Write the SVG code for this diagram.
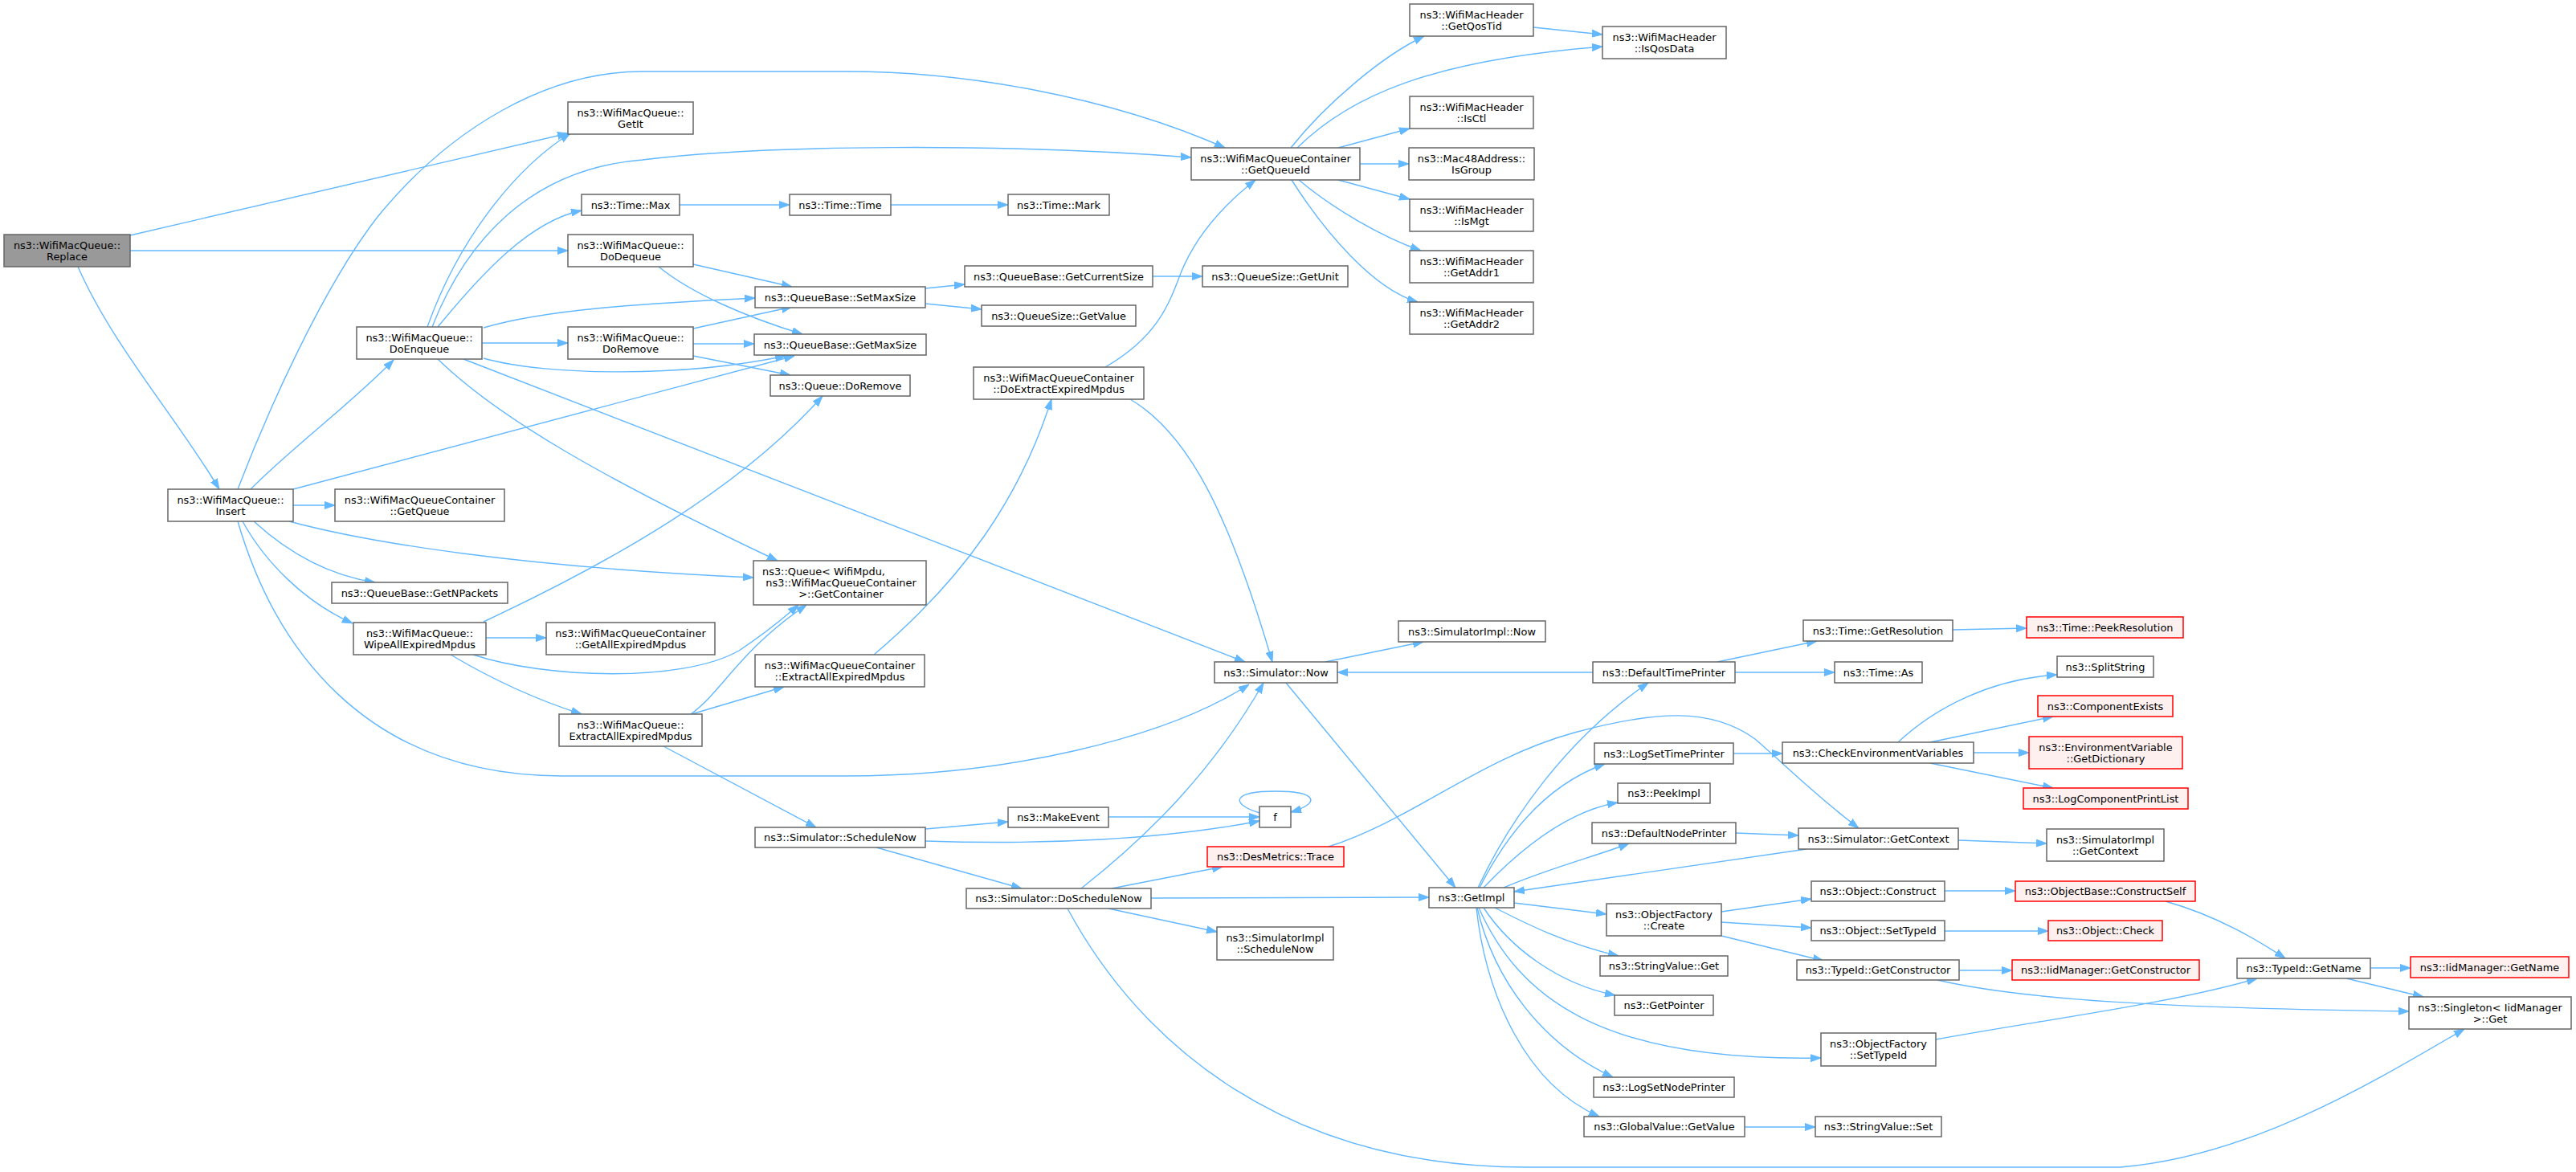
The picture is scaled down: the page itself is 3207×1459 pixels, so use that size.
<svg xmlns="http://www.w3.org/2000/svg" width="3207" height="1459" viewBox="0 0 3207 1459">
<defs>
<marker id="a" viewBox="0 0 13 10" refX="13" refY="5" markerWidth="13" markerHeight="10" markerUnits="userSpaceOnUse" orient="auto"><path d="M0,0.5 L13,5 L0,9.5 z" fill="#63b8ff" stroke="#63b8ff" stroke-width="1"/></marker>
</defs>
<style>
.n rect{fill:#ffffff;stroke:#666666;stroke-width:1.5}
.root rect{fill:#999999}
.red rect{fill:#fff0f0;stroke:#ff0000}
text{font-family:"DejaVu Sans","Liberation Sans",sans-serif;font-size:12.9px;text-anchor:middle;fill:#000}
.e path{fill:none;stroke:#63b8ff;stroke-width:1.4;marker-end:url(#a)}
</style>
<rect width="3207" height="1459" fill="#ffffff"/>
<g class="e" id="edges">
<path d="M162,293 L707,166"/>
<path d="M162,312 L707,312"/>
<path d="M97,332 C 140,430 220,520 273,609"/>
<path d="M296,609 C 330,520 400,360 470,270 C 560,160 680,89 800,89 L1055,89 C 1200,89 1380,120 1525,184"/>
<path d="M312,609 C 360,560 440,500 490,448"/>
<path d="M365,609 L989,443"/>
<path d="M365,629 L417,629"/>
<path d="M360,649 C 460,676 650,706 938,719"/>
<path d="M316,649 C 350,680 400,715 467,725"/>
<path d="M302,649 C 330,700 380,750 439,776"/>
<path d="M296,649 C 340,800 450,966 700,966 L1053,966 C 1250,966 1450,920 1555,852"/>
<path d="M532,407 C 570,300 640,210 710,166"/>
<path d="M538,407 C 580,300 660,210 800,199 C 950,180 1250,178 1483,196"/>
<path d="M545,407 C 600,340 660,275 724,262"/>
<path d="M602,408 C 680,385 800,378 940,371"/>
<path d="M600,427 L707,427"/>
<path d="M602,446 C 680,468 850,470 978,443"/>
<path d="M545,447 C 620,520 750,595 968,698"/>
<path d="M577,447 L1550,824"/>
<path d="M863,329 L986,357"/>
<path d="M820,332 C 860,365 930,395 999,416"/>
<path d="M863,409 L986,382"/>
<path d="M863,428 L939,428"/>
<path d="M863,443 L984,467"/>
<path d="M846,255 L983,255"/>
<path d="M1109,255 L1255,255"/>
<path d="M1152,359 L1201,354"/>
<path d="M1152,378 L1222,385"/>
<path d="M1435,344 L1497,344"/>
<path d="M602,774 C 760,700 920,610 1024,493"/>
<path d="M589,815 C 680,845 850,850 920,810 C 950,790 975,770 994,753"/>
<path d="M605,794 L680,794"/>
<path d="M561,815 C 620,850 680,875 724,889"/>
<path d="M860,889 C 900,860 920,810 1004,753"/>
<path d="M861,889 L976,855"/>
<path d="M826,929 L1016,1030"/>
<path d="M1088,815 C 1200,720 1270,620 1309,497"/>
<path d="M1376,457 C 1440,420 1455,380 1470,340 C 1490,290 1530,250 1563,224"/>
<path d="M1407,497 C 1480,540 1530,640 1584,824"/>
<path d="M1607,184 C 1650,130 1720,70 1773,45"/>
<path d="M1615,184 C 1680,120 1780,75 1995,58"/>
<path d="M1666,184 L1755,160"/>
<path d="M1693,204 L1754,204"/>
<path d="M1666,224 L1755,248"/>
<path d="M1617,224 C 1660,260 1720,295 1769,312"/>
<path d="M1608,224 C 1650,290 1710,360 1765,376"/>
<path d="M1909,34 L1995,43"/>
<path d="M1650,824 L1772,799"/>
<path d="M1601,850 L1812,1105"/>
<path d="M1983,837 L1665,837"/>
<path d="M2138,824 L2262,798"/>
<path d="M2160,837 L2284,837"/>
<path d="M2431,784 L2523,782"/>
<path d="M1840,1105 C 1880,1020 1950,920 2052,850"/>
<path d="M1842,1105 C 1880,1030 1930,975 1998,951"/>
<path d="M1847,1105 C 1890,1060 1950,1010 2014,999"/>
<path d="M1872,1105 C 1930,1080 1990,1065 2028,1050"/>
<path d="M1885,1124 L2000,1138"/>
<path d="M1861,1130 C 1900,1150 1950,1175 2015,1190"/>
<path d="M1847,1130 C 1880,1180 1940,1225 2011,1239"/>
<path d="M1841,1130 C 1890,1240 1990,1322 2267,1317"/>
<path d="M1839,1130 C 1860,1220 1920,1300 2008,1341"/>
<path d="M1838,1130 C 1850,1240 1900,1350 1991,1390"/>
<path d="M2249,1057 L1885,1110"/>
<path d="M2158,938 L2219,938"/>
<path d="M2161,1037 L2239,1040"/>
<path d="M2143,1135 L2255,1119"/>
<path d="M2143,1148 L2255,1155"/>
<path d="M2143,1165 L2270,1196"/>
<path d="M2172,1403 L2260,1403"/>
<path d="M1654,1054 C 1760,1020 1840,945 1960,912 C 2060,885 2130,880 2185,920 C 2220,950 2260,990 2314,1031"/>
<path d="M2363,924 C 2410,880 2480,845 2561,840"/>
<path d="M2403,924 L2556,892"/>
<path d="M2457,937 L2526,937"/>
<path d="M2403,950 L2556,981"/>
<path d="M2438,1046 L2548,1050"/>
<path d="M2421,1109 L2509,1109"/>
<path d="M2421,1159 L2550,1159"/>
<path d="M2439,1208 L2505,1208"/>
<path d="M2412,1220 C 2520,1245 2700,1255 2999,1259"/>
<path d="M2696,1122 C 2760,1140 2810,1170 2845,1193"/>
<path d="M2410,1294 C 2540,1270 2700,1250 2810,1218"/>
<path d="M2951,1205 L3001,1205"/>
<path d="M2921,1218 L3017,1241"/>
<path d="M1329,1131 C 1420,1300 1600,1453 1900,1453 L2640,1453 C 2800,1440 2950,1350 3068,1281"/>
<path d="M1346,1106 C 1430,1040 1510,960 1573,850"/>
<path d="M1384,1106 L1522,1079"/>
<path d="M1433,1118 L1779,1117"/>
<path d="M1380,1131 L1515,1160"/>
<path d="M1152,1032 L1255,1023"/>
<path d="M1152,1047 C 1300,1052 1450,1045 1568,1022"/>
<path d="M1091,1055 L1272,1106"/>
<path d="M1380,1017 L1568,1017"/>
<path d="M1568,1012 C 1530,1000 1535,985 1588,985 C 1640,985 1645,1000 1607,1011"/>
</g>
<g id="n_replace" class="n root"><rect x="5" y="292" width="157" height="40"/><text x="83.5" y="309.6">ns3::WifiMacQueue::</text><text x="83.5" y="323.6">Replace</text></g>
<g id="n_insert" class="n"><rect x="209" y="609" width="156" height="40"/><text x="287" y="626.6">ns3::WifiMacQueue::</text><text x="287" y="640.6">Insert</text></g>
<g id="n_getit" class="n"><rect x="707" y="127" width="156" height="40"/><text x="785" y="144.6">ns3::WifiMacQueue::</text><text x="785" y="158.6">GetIt</text></g>
<g id="n_timemax" class="n"><rect x="724" y="242" width="122" height="26"/><text x="785" y="259.6">ns3::Time::Max</text></g>
<g id="n_dodequeue" class="n"><rect x="707" y="292" width="156" height="40"/><text x="785" y="309.6">ns3::WifiMacQueue::</text><text x="785" y="323.6">DoDequeue</text></g>
<g id="n_doenqueue" class="n"><rect x="444" y="407" width="156" height="40"/><text x="522" y="424.6">ns3::WifiMacQueue::</text><text x="522" y="438.6">DoEnqueue</text></g>
<g id="n_doremovew" class="n"><rect x="707" y="407" width="156" height="40"/><text x="785" y="424.6">ns3::WifiMacQueue::</text><text x="785" y="438.6">DoRemove</text></g>
<g id="n_getqueue" class="n"><rect x="417" y="609" width="211" height="40"/><text x="522.5" y="626.6">ns3::WifiMacQueueContainer</text><text x="522.5" y="640.6">::GetQueue</text></g>
<g id="n_getnpackets" class="n"><rect x="413" y="725" width="219" height="26"/><text x="522.5" y="742.6">ns3::QueueBase::GetNPackets</text></g>
<g id="n_wipe" class="n"><rect x="440" y="775" width="165" height="40"/><text x="522.5" y="792.6">ns3::WifiMacQueue::</text><text x="522.5" y="806.6">WipeAllExpiredMpdus</text></g>
<g id="n_getallexp" class="n"><rect x="680" y="775" width="210" height="40"/><text x="785" y="792.6">ns3::WifiMacQueueContainer</text><text x="785" y="806.6">::GetAllExpiredMpdus</text></g>
<g id="n_extractw" class="n"><rect x="696" y="889" width="178" height="40"/><text x="785" y="906.6">ns3::WifiMacQueue::</text><text x="785" y="920.6">ExtractAllExpiredMpdus</text></g>
<g id="n_getqueueid" class="n"><rect x="1483" y="184" width="210" height="40"/><text x="1588" y="201.6">ns3::WifiMacQueueContainer</text><text x="1588" y="215.6">::GetQueueId</text></g>
<g id="n_timetime" class="n"><rect x="983" y="242" width="126" height="26"/><text x="1046" y="259.6">ns3::Time::Time</text></g>
<g id="n_timemark" class="n"><rect x="1255" y="242" width="126" height="26"/><text x="1318" y="259.6">ns3::Time::Mark</text></g>
<g id="n_getcurrentsize" class="n"><rect x="1201" y="331" width="234" height="26"/><text x="1318" y="348.6">ns3::QueueBase::GetCurrentSize</text></g>
<g id="n_getunit" class="n"><rect x="1497" y="331" width="181" height="26"/><text x="1587.5" y="348.6">ns3::QueueSize::GetUnit</text></g>
<g id="n_setmaxsize" class="n"><rect x="940" y="357" width="212" height="26"/><text x="1046" y="374.6">ns3::QueueBase::SetMaxSize</text></g>
<g id="n_getvalueqs" class="n"><rect x="1222" y="380" width="192" height="26"/><text x="1318" y="397.6">ns3::QueueSize::GetValue</text></g>
<g id="n_getmaxsize" class="n"><rect x="939" y="416" width="214" height="26"/><text x="1046" y="433.6">ns3::QueueBase::GetMaxSize</text></g>
<g id="n_qdoremove" class="n"><rect x="959" y="467" width="174" height="26"/><text x="1046" y="484.6">ns3::Queue::DoRemove</text></g>
<g id="n_doextractexp" class="n"><rect x="1212" y="457" width="212" height="40"/><text x="1318" y="474.6">ns3::WifiMacQueueContainer</text><text x="1318" y="488.6">::DoExtractExpiredMpdus</text></g>
<g id="n_getcontainer" class="n"><rect x="938" y="698" width="215" height="55"/><text x="949" y="716.1" style="text-anchor:start">ns3::Queue&lt; WifiMpdu,</text><text x="1047" y="730.1">ns3::WifiMacQueueContainer</text><text x="1047" y="744.1">&gt;::GetContainer</text></g>
<g id="n_extractc" class="n"><rect x="940" y="815" width="211" height="40"/><text x="1045.5" y="832.6">ns3::WifiMacQueueContainer</text><text x="1045.5" y="846.6">::ExtractAllExpiredMpdus</text></g>
<g id="n_simnow" class="n"><rect x="1512" y="824" width="153" height="26"/><text x="1588.5" y="841.6">ns3::Simulator::Now</text></g>
<g id="n_schedulenow" class="n"><rect x="940" y="1030" width="212" height="25"/><text x="1046" y="1047.1">ns3::Simulator::ScheduleNow</text></g>
<g id="n_makeevent" class="n"><rect x="1255" y="1005" width="125" height="25"/><text x="1317.5" y="1022.1">ns3::MakeEvent</text></g>
<g id="n_f" class="n"><rect x="1568" y="1004" width="39" height="26"/><text x="1587.5" y="1021.6">f</text></g>
<g id="n_trace" class="n red"><rect x="1503" y="1054" width="170" height="25"/><text x="1588" y="1071.1">ns3::DesMetrics::Trace</text></g>
<g id="n_doschedulenow" class="n"><rect x="1203" y="1106" width="230" height="25"/><text x="1318" y="1123.1">ns3::Simulator::DoScheduleNow</text></g>
<g id="n_simimplschednow" class="n"><rect x="1515" y="1154" width="145" height="41"/><text x="1587.5" y="1172.1">ns3::SimulatorImpl</text><text x="1587.5" y="1186.1">::ScheduleNow</text></g>
<g id="n_getqostid" class="n"><rect x="1755" y="5" width="154" height="40"/><text x="1832" y="22.6">ns3::WifiMacHeader</text><text x="1832" y="36.6">::GetQosTid</text></g>
<g id="n_isqosdata" class="n"><rect x="1995" y="33" width="154" height="40"/><text x="2072" y="50.6">ns3::WifiMacHeader</text><text x="2072" y="64.6">::IsQosData</text></g>
<g id="n_isctl" class="n"><rect x="1755" y="120" width="154" height="40"/><text x="1832" y="137.6">ns3::WifiMacHeader</text><text x="1832" y="151.6">::IsCtl</text></g>
<g id="n_isgroup" class="n"><rect x="1754" y="184" width="156" height="40"/><text x="1832" y="201.6">ns3::Mac48Address::</text><text x="1832" y="215.6">IsGroup</text></g>
<g id="n_ismgt" class="n"><rect x="1755" y="248" width="154" height="40"/><text x="1832" y="265.6">ns3::WifiMacHeader</text><text x="1832" y="279.6">::IsMgt</text></g>
<g id="n_getaddr1" class="n"><rect x="1755" y="312" width="154" height="40"/><text x="1832" y="329.6">ns3::WifiMacHeader</text><text x="1832" y="343.6">::GetAddr1</text></g>
<g id="n_getaddr2" class="n"><rect x="1755" y="376" width="154" height="40"/><text x="1832" y="393.6">ns3::WifiMacHeader</text><text x="1832" y="407.6">::GetAddr2</text></g>
<g id="n_simimplnow" class="n"><rect x="1741" y="773" width="183" height="26"/><text x="1832.5" y="790.6">ns3::SimulatorImpl::Now</text></g>
<g id="n_getimpl" class="n"><rect x="1779" y="1105" width="106" height="25"/><text x="1832" y="1122.1">ns3::GetImpl</text></g>
<g id="n_defaulttimeprinter" class="n"><rect x="1983" y="824" width="177" height="26"/><text x="2071.5" y="841.6">ns3::DefaultTimePrinter</text></g>
<g id="n_logsettimeprinter" class="n"><rect x="1985" y="925" width="173" height="26"/><text x="2071.5" y="942.6">ns3::LogSetTimePrinter</text></g>
<g id="n_peekimpl" class="n"><rect x="2014" y="975" width="115" height="25"/><text x="2071.5" y="992.1">ns3::PeekImpl</text></g>
<g id="n_defaultnodeprinter" class="n"><rect x="1982" y="1024" width="179" height="26"/><text x="2071.5" y="1041.6">ns3::DefaultNodePrinter</text></g>
<g id="n_ofcreate" class="n"><rect x="2000" y="1125" width="143" height="40"/><text x="2071.5" y="1142.6">ns3::ObjectFactory</text><text x="2071.5" y="1156.6">::Create</text></g>
<g id="n_stringvalueget" class="n"><rect x="1992" y="1190" width="159" height="25"/><text x="2071.5" y="1207.1">ns3::StringValue::Get</text></g>
<g id="n_getpointer" class="n"><rect x="2010" y="1239" width="123" height="25"/><text x="2071.5" y="1256.1">ns3::GetPointer</text></g>
<g id="n_logsetnodeprinter" class="n"><rect x="1984" y="1341" width="175" height="25"/><text x="2071.5" y="1358.1">ns3::LogSetNodePrinter</text></g>
<g id="n_globalgetvalue" class="n"><rect x="1972" y="1390" width="200" height="25"/><text x="2072" y="1407.1">ns3::GlobalValue::GetValue</text></g>
<g id="n_getresolution" class="n"><rect x="2245" y="772" width="186" height="26"/><text x="2338" y="789.6">ns3::Time::GetResolution</text></g>
<g id="n_timeas" class="n"><rect x="2284" y="824" width="109" height="26"/><text x="2338.5" y="841.6">ns3::Time::As</text></g>
<g id="n_checkenv" class="n"><rect x="2219" y="924" width="238" height="26"/><text x="2338" y="941.6">ns3::CheckEnvironmentVariables</text></g>
<g id="n_simgetcontext" class="n"><rect x="2239" y="1031" width="199" height="26"/><text x="2338.5" y="1048.6">ns3::Simulator::GetContext</text></g>
<g id="n_objconstruct" class="n"><rect x="2255" y="1097" width="166" height="25"/><text x="2338" y="1114.1">ns3::Object::Construct</text></g>
<g id="n_objsettypeid" class="n"><rect x="2255" y="1146" width="166" height="25"/><text x="2338" y="1163.1">ns3::Object::SetTypeId</text></g>
<g id="n_typeidgetconstructor" class="n"><rect x="2237" y="1195" width="202" height="25"/><text x="2338" y="1212.1">ns3::TypeId::GetConstructor</text></g>
<g id="n_ofsettypeid" class="n"><rect x="2267" y="1286" width="143" height="41"/><text x="2338.5" y="1304.1">ns3::ObjectFactory</text><text x="2338.5" y="1318.1">::SetTypeId</text></g>
<g id="n_stringvalueset" class="n"><rect x="2260" y="1390" width="157" height="25"/><text x="2338.5" y="1407.1">ns3::StringValue::Set</text></g>
<g id="n_peekresolution" class="n red"><rect x="2523" y="768" width="195" height="26"/><text x="2620.5" y="785.6">ns3::Time::PeekResolution</text></g>
<g id="n_splitstring" class="n"><rect x="2561" y="817" width="120" height="26"/><text x="2621" y="834.6">ns3::SplitString</text></g>
<g id="n_componentexists" class="n red"><rect x="2537" y="866" width="168" height="26"/><text x="2621" y="883.6">ns3::ComponentExists</text></g>
<g id="n_getdictionary" class="n red"><rect x="2526" y="917" width="191" height="40"/><text x="2621.5" y="934.6">ns3::EnvironmentVariable</text><text x="2621.5" y="948.6">::GetDictionary</text></g>
<g id="n_logcomponentprintlist" class="n red"><rect x="2519" y="981" width="205" height="26"/><text x="2621.5" y="998.6">ns3::LogComponentPrintList</text></g>
<g id="n_simimplgetcontext" class="n"><rect x="2548" y="1032" width="146" height="40"/><text x="2621" y="1049.6">ns3::SimulatorImpl</text><text x="2621" y="1063.6">::GetContext</text></g>
<g id="n_constructself" class="n red"><rect x="2509" y="1097" width="224" height="25"/><text x="2621" y="1114.1">ns3::ObjectBase::ConstructSelf</text></g>
<g id="n_objcheck" class="n red"><rect x="2550" y="1146" width="142" height="25"/><text x="2621" y="1163.1">ns3::Object::Check</text></g>
<g id="n_iidgetconstructor" class="n red"><rect x="2505" y="1195" width="233" height="25"/><text x="2621.5" y="1212.1">ns3::IidManager::GetConstructor</text></g>
<g id="n_typeidgetname" class="n"><rect x="2785" y="1193" width="166" height="25"/><text x="2868" y="1210.1">ns3::TypeId::GetName</text></g>
<g id="n_iidgetname" class="n red"><rect x="3001" y="1191" width="197" height="26"/><text x="3099.5" y="1208.6">ns3::IidManager::GetName</text></g>
<g id="n_singleton" class="n"><rect x="2999" y="1241" width="202" height="40"/><text x="3100" y="1258.6">ns3::Singleton&lt; IidManager</text><text x="3100" y="1272.6">&gt;::Get</text></g>
</svg>
